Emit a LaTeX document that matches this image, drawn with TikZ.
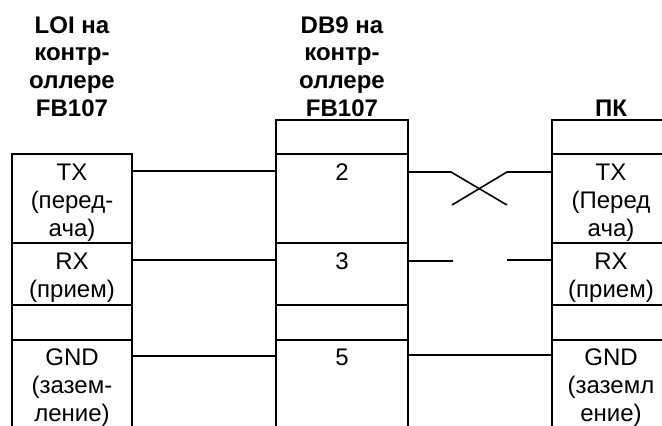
\documentclass[tikz,border=0pt]{standalone}
\usepackage{fontspec}
\setmainfont{Liberation Sans}
\tikzset{
  cell/.style={draw=black,line width=1.6pt,anchor=north west,inner sep=0pt,outer sep=0pt},
  lbl/.style={align=center,inner sep=0pt,font=\fontsize{24}{27.8}\selectfont,anchor=north},
  head/.style={align=center,inner sep=0pt,font=\fontsize{24}{27.8}\selectfont\bfseries,anchor=south},
  wire/.style={draw=black,line width=1.6pt}
}
\begin{document}
\begin{tikzpicture}[x=1pt,y=-1pt]
\useasboundingbox (0,0) rectangle (662,426);
\clip (0,0) rectangle (662,426);
% left column
\node[cell,minimum width=120pt,minimum height=89pt] (l1) at (12,154) {};
\node[cell,minimum width=120pt,minimum height=62pt] (l2) at (12,243) {};
\node[cell,minimum width=120pt,minimum height=35pt] (l3) at (12,305) {};
\node[cell,minimum width=120pt,minimum height=100pt] (l4) at (12,340) {};
% middle column
\node[cell,minimum width=132pt,minimum height=34pt] (m0) at (276,120) {};
\node[cell,minimum width=132pt,minimum height=89pt] (m1) at (276,154) {};
\node[cell,minimum width=132pt,minimum height=62pt] (m2) at (276,243) {};
\node[cell,minimum width=132pt,minimum height=35pt] (m3) at (276,305) {};
\node[cell,minimum width=132pt,minimum height=100pt] (m4) at (276,340) {};
% right column
\node[cell,minimum width=130pt,minimum height=34pt] (r0) at (552,120) {};
\node[cell,minimum width=130pt,minimum height=89pt] (r1) at (552,154) {};
\node[cell,minimum width=130pt,minimum height=62pt] (r2) at (552,243) {};
\node[cell,minimum width=130pt,minimum height=35pt] (r3) at (552,305) {};
\node[cell,minimum width=130pt,minimum height=100pt] (r4) at (552,340) {};
% headers
\node[head] (hl) at (72,117) {LOI на\\контр-\\оллере\\FB107};
\node[head] (hm) at (342,117) {DB9 на\\контр-\\оллере\\FB107};
\node[head] (hr) at (611,117) {ПК};
% labels
\node[lbl] (tl1) at (72,164) {TX\\(перед-\\ача)};
\node[lbl] (tl2) at (72,253) {RX\\(прием)};
\node[lbl] (tl4) at (72,349) {GND\\(зазем-\\ление)};
\node[lbl] (tm1) at (342,164) {2};
\node[lbl] (tm2) at (342,253) {3};
\node[lbl] (tm4) at (342,349) {5};
\node[lbl] (tr1) at (611,164) {TX\\(Перед\\ача)};
\node[lbl] (tr2) at (611,253) {RX\\(прием)};
\node[lbl] (tr4) at (611,349) {GND\\(заземл\\ение)};
% anchor points on the cell borders
\coordinate (a1) at (132,171);
\coordinate (b1) at (276,171);
\coordinate (a2) at (132,260);
\coordinate (b2) at (276,260);
\coordinate (a4) at (132,356);
\coordinate (b4) at (276,356);
\coordinate (c1) at (408,172);
\coordinate (d1) at (552,172);
\coordinate (c2) at (408,261);
\coordinate (d2) at (552,260);
\coordinate (c4) at (408,355);
\coordinate (d4) at (552,355);
\coordinate (x1) at (451,172);
\coordinate (x2) at (507,205);
\coordinate (x3) at (507,172);
\coordinate (x4) at (452,205);
\coordinate (g1) at (453,261);
\coordinate (g2) at (507,260);
% connectors
\draw[wire] (a1) -- (b1);
\draw[wire] (a2) -- (b2);
\draw[wire] (a4) -- (b4);
\draw[wire] (c1) -- (x1) -- (x2);
\draw[wire] (d1) -- (x3) -- (x4);
\draw[wire] (c2) -- (g1);
\draw[wire] (d2) -- (g2);
\draw[wire] (c4) -- (d4);
\end{tikzpicture}
\end{document}
